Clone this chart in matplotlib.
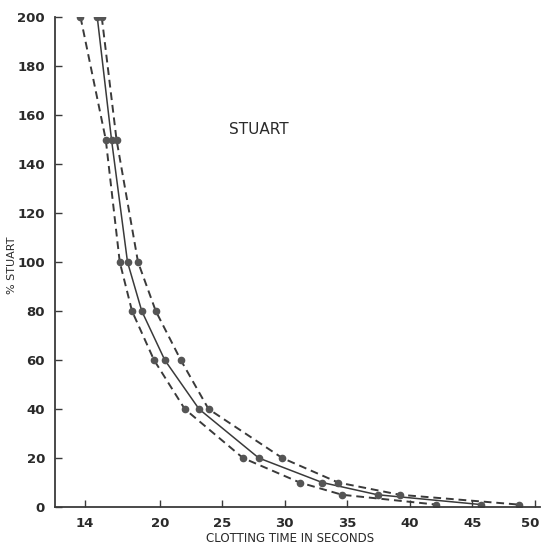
import matplotlib.pyplot as plt
import matplotlib.transforms as mtransforms

# percent Stuart factor vs clotting time (seconds), three curves
pct = [200, 150, 100, 80, 60, 40, 20, 10, 5, 1]
t_low = [13.66, 15.68, 16.8, 17.78, 19.54, 22.0, 26.66, 31.2, 34.58, 42.1]
t_mid = [15.0, 16.14, 17.42, 18.56, 20.4, 23.14, 27.92, 33.0, 37.42, 45.7]
t_high = [15.36, 16.54, 18.26, 19.68, 21.68, 23.9, 29.8, 34.27, 39.2, 48.7]

x_ticks = [14, 20, 25, 30, 35, 40, 45, 50]
y_ticks = list(range(0, 201, 20))

ink = '#3a3a3a'

fig = plt.figure(figsize=(5.42, 5.45), dpi=100)
ax = fig.add_axes([0.101, 0.0697, 0.895, 0.899])

ax.plot(t_low, pct, color=ink, lw=1.4, ls=(0, (4, 2.5)),
        marker='o', ms=4.5, mfc='#555555', mec='#555555')
ax.plot(t_mid, pct, color=ink, lw=1.1, ls='-',
        marker='o', ms=4.5, mfc='#555555', mec='#555555')
ax.plot(t_high, pct, color=ink, lw=1.4, ls=(0, (4, 2.5)),
        marker='o', ms=4.5, mfc='#555555', mec='#555555')

ax.set_xlim(11.6, 50.4)
ax.set_ylim(0, 200)
ax.set_xticks(x_ticks)
ax.set_yticks(y_ticks)

for s in ['top', 'right']:
    ax.spines[s].set_visible(False)
for s in ['left', 'bottom']:
    ax.spines[s].set_color(ink)
    ax.spines[s].set_linewidth(1.3)

ax.tick_params(direction='in', length=5, width=1, color=ink,
               labelcolor='#2a2a2a', labelsize=9.5, pad=7)
for lbl in ax.get_xticklabels() + ax.get_yticklabels():
    lbl.set_fontweight('bold')

# nudge the last x label so it stays inside the figure
last = ax.get_xticklabels()[-1]
shift = mtransforms.ScaledTranslation(-5 / 100, 0, fig.dpi_scale_trans)
last.set_transform(last.get_transform() + shift)

ax.text(0.42, 0.77, 'STUART', transform=ax.transAxes, ha='center', va='center',
        fontsize=11, color='#2a2a2a')

fig.text(0.535, 0.012, 'CLOTTING TIME IN SECONDS', ha='center', va='center',
         fontsize=8.5, color='#2a2a2a')
fig.text(0.022, 0.513, '% STUART', rotation=90, ha='center', va='center',
         fontsize=8, color='#2a2a2a')

fig.savefig('out.png', dpi=100)
